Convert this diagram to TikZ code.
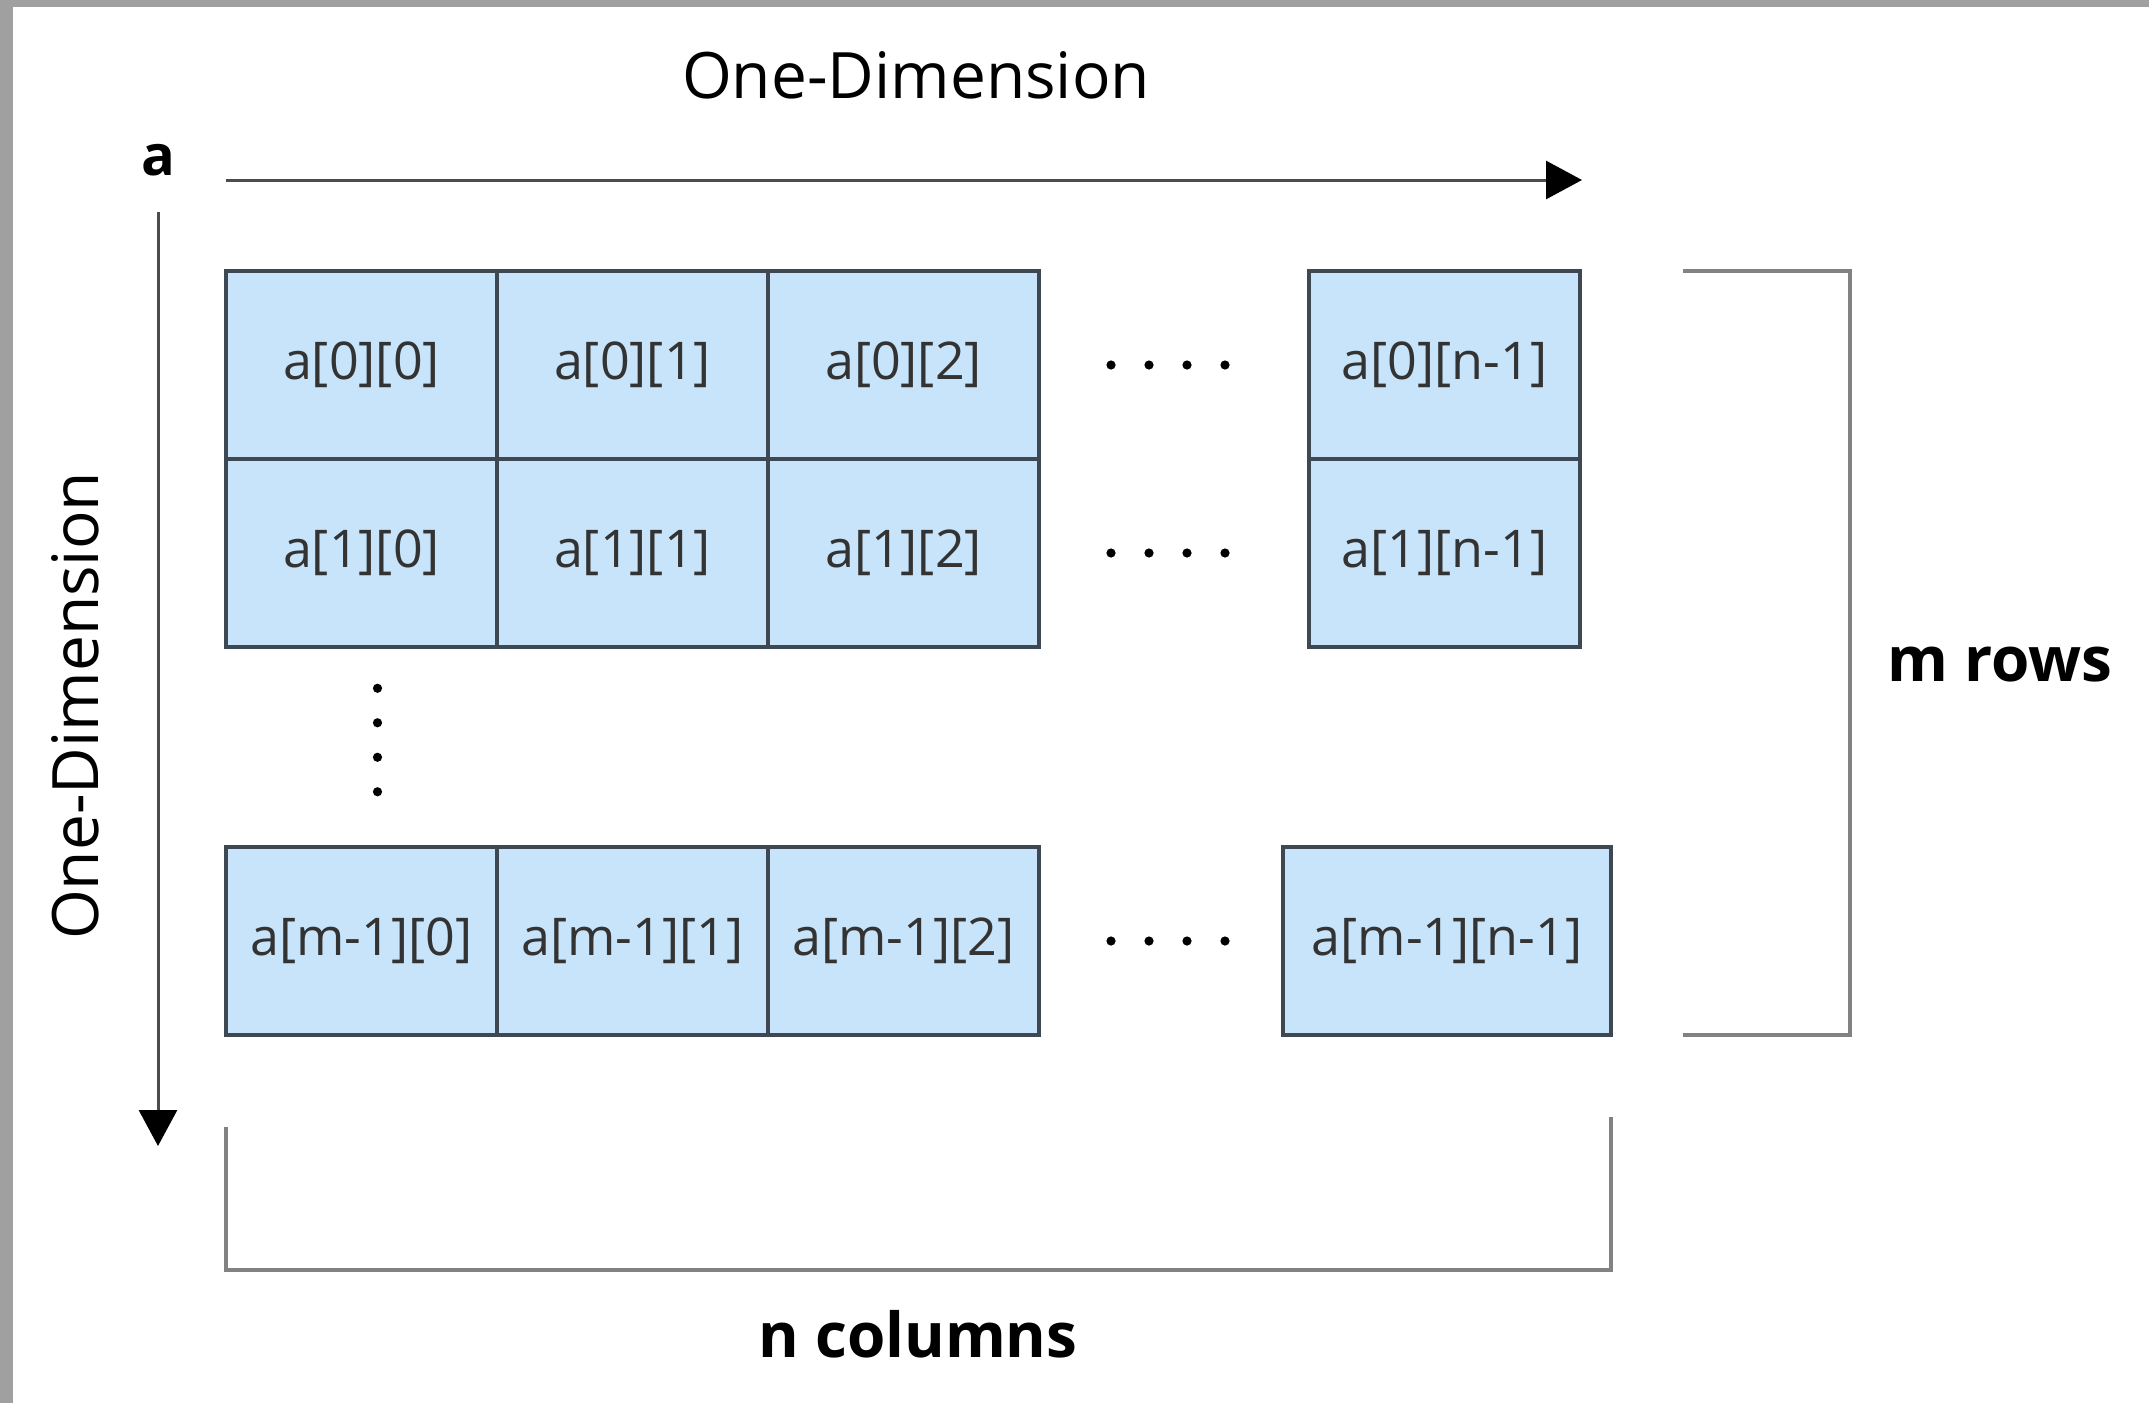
\documentclass[tikz,border=0pt]{standalone}
\usepackage{fontspec}
\setmainfont{Open Sans}
\usepackage{xcolor}
\usepackage{tikz}
\usetikzlibrary{positioning}
\usetikzlibrary{arrows.meta}
\usetikzlibrary{calc}
\definecolor{cellblue}{RGB}{199,228,250}
\definecolor{celledge}{RGB}{62,72,82}
\definecolor{bracketgray}{RGB}{130,130,130}
\definecolor{framegray}{RGB}{160,160,160}

\begin{document}
\begin{tikzpicture}[
x=0.5pt, y=-0.5pt,
cellnode/.style={rectangle, draw=celledge, fill=cellblue, line width=1.75pt, minimum width=135.5pt, minimum height=94pt, inner sep=0pt, outer sep=0pt, text=black!80, font=\fontsize{26}{30}\selectfont},
widecellnode/.style={cellnode, minimum width=164pt},
titlenode/.style={font=\fontsize{32}{36}\selectfont},
boldnode/.style={font=\fontsize{31}{36}\selectfont\bfseries},
axisarrow/.style={draw=black!70, line width=1.5pt, -{Triangle[length=18pt, width=19pt, fill=black, color=black]}},
bracketline/.style={draw=bracketgray, line width=1.75pt},
]
%Frame
\useasboundingbox (0,0) rectangle (2149,1403);
\fill[white] (0,0) rectangle (2149,1403);
\fill[framegray] (0,0) rectangle (2149,7);
\fill[framegray] (0,0) rectangle (13,1403);

%Nodes
\node[cellnode]			(c00)		at (361.5,365)			{a[0][0]};
\node[cellnode]			(c01)		[right=0pt of c00]		{a[0][1]};
\node[cellnode]			(c02)		[right=0pt of c01]		{a[0][2]};
\node[cellnode]			(c0n)		[right=135pt of c02]	{a[0][n-1]};
\node[cellnode]			(c10)		[below=0pt of c00]		{a[1][0]};
\node[cellnode]			(c11)		[below=0pt of c01]		{a[1][1]};
\node[cellnode]			(c12)		[below=0pt of c02]		{a[1][2]};
\node[cellnode]			(c1n)		[below=0pt of c0n]		{a[1][n-1]};
\node[cellnode]			(cm0)		[below=100pt of c10]	{a[m-1][0]};
\node[cellnode]			(cm1)		[right=0pt of cm0]		{a[m-1][1]};
\node[cellnode]			(cm2)		[right=0pt of cm1]		{a[m-1][2]};
\node[widecellnode]		(cmn)		[right=122pt of cm2]	{a[m-1][n-1]};

\node[titlenode]			(toplabel)	at (916,75)				{One-Dimension};
\node[titlenode, rotate=90]	(sidelabel)	at (75,706)				{One-Dimension};
\node[font=\fontsize{28}{32}\selectfont\bfseries]	(arrname)	at (158,160)	{a};
\node[boldnode]			(rowlabel)	at (2000,665)			{m rows};
\node[boldnode]			(collabel)	at (918,1334)			{n columns};

%Dots
\foreach \a/\b/\d in {c02/c0n/-6, c12/c1n/-6, cm2/cmn/7}
	\foreach \i in {-1.5,-0.5,0.5,1.5}
		\fill[black] ($(\a.east)!0.5!(\b.west)+(\i*38+\d,0)$) circle (2.3pt);
\foreach \i in {-1.5,-0.5,0.5,1.5}
	\fill[black] ($(c10.south)!0.5!(cm0.north)+(16,\i*34.5-7)$) circle (2.3pt);

%Lines
\coordinate (hstart) at (226,180);
\coordinate (hend) at (1582,180);
\coordinate (vstart) at (158,212);
\coordinate (vend) at (158,1146);
\draw[axisarrow] (hstart) -- (hend);
\draw[axisarrow] (vstart) -- (vend);

%Brackets
\coordinate (rowtop) at (1683,271);
\coordinate (rowbot) at (1683,1035);
\coordinate (colleft) at (226,1127);
\coordinate (colright) at (1611,1117);
\draw[bracketline] (rowtop) -- ++(167,0) |- (rowbot);
\draw[bracketline] (colleft) -- ++(0,143) -| (colright);
\end{tikzpicture}
\end{document}
